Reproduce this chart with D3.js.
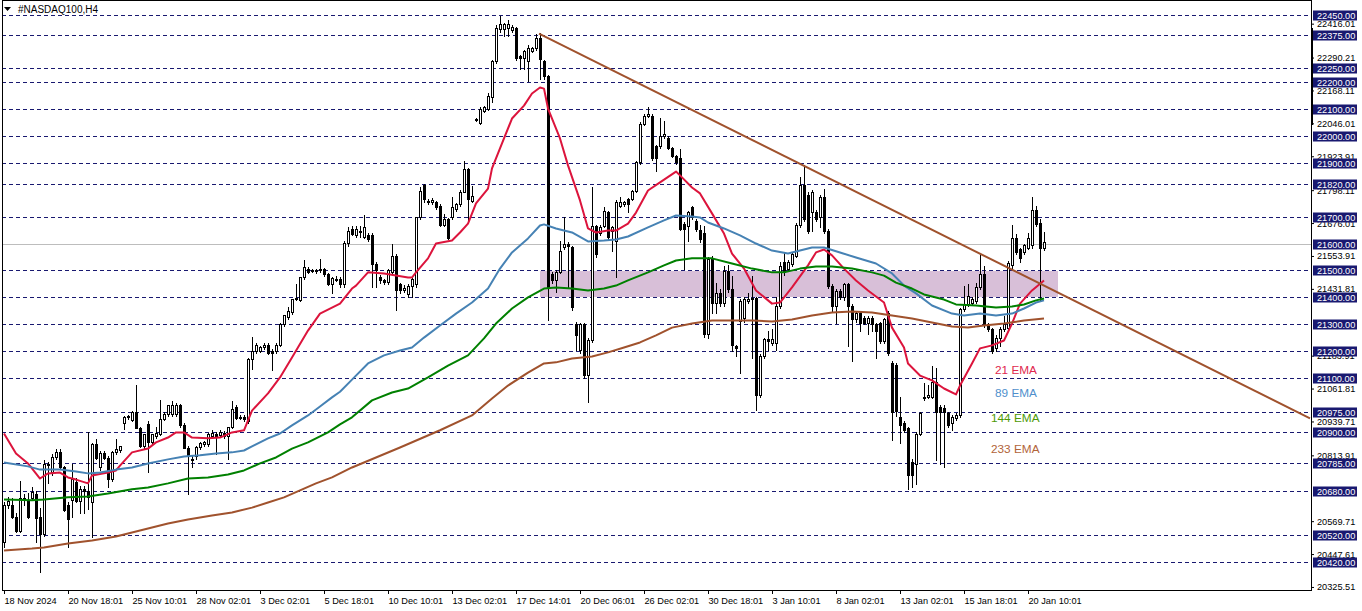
<!DOCTYPE html>
<html><head><meta charset="utf-8">
<script src="https://cdn.jsdelivr.net/npm/d3@7"></script>
<style>
html,body{margin:0;padding:0;background:#fff;}
svg{display:block;}
text{font-family:"Liberation Sans",Arial,sans-serif;}
</style></head><body>
<svg id="chart" width="1362" height="611"></svg>
<script>
// ---------------- DATA ----------------
const open = [20492,20630,20630,20585,20535,20655,20650,20655,20670,20585,20523,20782,20752,20808,20826,20770,20630,20650,20715,20646,
20690,20680,20640,20855,20770,20822,20803,20727,20826,20833,20933,20958,20945,20975,20915,20847,20930,20863,20885,20894,
20950,20968,20968,20968,21000,20928,20842,20800,20813,20844,20857,20857,20885,20894,20890,20898,20885,20919,20995,20956,
20955,20943,21172,21203,21203,21215,21225,21203,21203,21225,21302,21327,21345,21395,21392,21475,21505,21500,21500,21500,
21506,21487,21448,21470,21469,21448,21601,21654,21630,21648,21623,21630,21630,21525,21475,21466,21457,21494,21552,21450,
21428,21413,21444,21450,21697,21818,21759,21753,21753,21740,21670,21691,21697,21728,21747,21793,21876,21759,22061,22049,
22092,22098,22144,22277,22395,22395,22401,22391,22401,22296,22290,22277,22314,22327,22364,22277,22222,21487,21463,21494,
21586,21599,21586,21302,21204,21302,21111,21241,21666,21640,21666,21716,21648,21611,21740,21747,21765,21765,21796,21901,
22043,22074,22074,21963,21963,21999,21993,21956,21926,21919,21673,21666,21734,21685,21650,21640,21263,21543,21381,21418,
21381,21499,21431,21219,21312,21325,21387,21393,21397,21038,21182,21244,21231,21231,21368,21530,21505,21524,21555,21667,
21817,21780,21717,21717,21698,21773,21648,21443,21368,21424,21400,21449,21368,21319,21343,21325,21306,21325,21300,21306,
21238,21343,21157,21150,20957,20933,20914,20790,20783,20895,21026,21032,21032,21088,20995,20989,20970,20933,20951,20964,
21356,21374,21381,21387,21437,21487,21300,21281,21214,21250,21281,21288,21520,21622,21580,21567,21585,21593,21723,21678,21582];
const high = [20640,20660,20655,20600,20720,20670,20675,20696,20680,20620,20795,20790,20820,20838,20838,20775,20640,20782,20730,20700,
20700,20900,20860,20875,20830,20830,20810,20830,20875,20850,20960,20965,20977,21076,20920,20895,20940,20894,20919,21020,
20975,21000,21015,21010,21005,20935,20850,20813,20850,20865,20866,20898,20907,20900,20907,20905,20920,21017,21000,20962,
20962,21175,21253,21230,21220,21230,21230,21210,21230,21305,21335,21364,21395,21450,21475,21540,21512,21505,21505,21544,
21510,21490,21475,21480,21475,21610,21663,21665,21665,21666,21706,21640,21640,21530,21485,21470,21505,21599,21560,21455,
21445,21450,21475,21700,21808,21821,21765,21770,21758,21745,21710,21695,21771,21752,21800,21907,21880,21814,22065,22105,
22110,22160,22280,22410,22444,22420,22431,22410,22405,22300,22320,22335,22330,22376,22380,22280,22225,21495,21500,21611,
21697,21605,21590,21310,21305,21305,21250,21808,21670,21670,21737,21720,21665,21760,21774,21758,21770,21800,21907,22050,
22080,22105,22080,21965,22067,22055,22000,21960,21930,21950,21680,21722,21740,21690,21667,21665,21550,21555,21455,21431,
21518,21520,21480,21225,21395,21400,21418,21480,21400,21190,21250,21275,21281,21400,21530,21568,21540,21570,21675,21848,
21891,21790,21800,21725,21780,21804,21655,21450,21430,21430,21455,21455,21375,21350,21350,21330,21330,21330,21305,21310,
21325,21350,21165,21157,21032,20940,20920,20800,20900,20975,21082,21076,21144,21138,21000,21000,20975,20965,20970,21362,
21443,21448,21400,21455,21561,21518,21305,21285,21260,21290,21331,21535,21667,21637,21585,21600,21640,21771,21741,21690,21641];
const low = [20473,20620,20580,20530,20530,20630,20580,20650,20492,20380,20515,20710,20740,20800,20765,20609,20473,20585,20640,20600,
20600,20615,20510,20800,20760,20800,20696,20720,20820,20828,20910,20950,20940,20915,20844,20840,20752,20855,20880,20890,
20945,20960,20960,20960,20920,20840,20671,20770,20800,20838,20850,20850,20880,20820,20885,20878,20801,20915,20950,20948,
20940,20935,21135,21195,21198,21210,21190,21129,21195,21220,21295,21320,21340,21390,21385,21470,21490,21495,21490,21495,
21480,21445,21416,21460,21440,21440,21590,21630,21625,21623,21620,21610,21438,21438,21455,21450,21450,21490,21354,21415,
21420,21401,21401,21440,21690,21755,21745,21745,21728,21665,21665,21615,21690,21722,21740,21790,21680,21755,22055,22043,
22088,22095,22127,22270,22385,22370,22370,22385,22280,22246,22246,22203,22310,22320,22210,22210,21315,21455,21420,21490,
21580,21438,21355,21204,21195,21100,21012,21235,21549,21630,21660,21618,21574,21475,21735,21740,21716,21760,21790,21895,
22040,22070,21910,21870,21955,21990,21950,21920,21895,21650,21506,21611,21690,21648,21605,21255,21250,21343,21343,21368,
21368,21420,21200,21182,21119,21310,21380,21175,20982,21030,21175,21206,21225,21206,21360,21485,21500,21518,21550,21660,
21685,21640,21648,21685,21661,21640,21435,21350,21306,21395,21390,21219,21163,21310,21275,21300,21263,21275,21175,21230,
21232,21188,20870,20960,20858,20900,20690,20696,20709,20890,21020,21025,21025,20796,20783,20771,20920,20908,20945,20957,
21350,21370,21375,21380,21430,21290,21275,21194,21200,21219,21275,21280,21510,21560,21530,21560,21580,21585,21665,21390,21575];
const close = [20630,20645,20585,20535,20655,20650,20585,20677,20580,20523,20782,20778,20808,20826,20770,20612,20578,20727,20646,20690,
20680,20658,20855,20805,20822,20803,20727,20826,20838,20850,20958,20960,20975,20915,20847,20894,20863,20894,20897,20950,
20968,20999,21001,21001,20925,20842,20813,20795,20844,20860,20863,20894,20897,20884,20902,20885,20919,20987,20953,20955,
20950,21172,21200,21225,21215,21222,21193,21193,21225,21302,21333,21349,21395,21398,21475,21512,21495,21501,21497,21506,
21487,21448,21473,21469,21448,21601,21648,21636,21654,21646,21660,21617,21525,21500,21465,21459,21500,21552,21426,21426,
21436,21444,21469,21697,21796,21765,21753,21760,21734,21670,21691,21620,21734,21747,21793,21876,21765,21777,22059,22098,
22105,22148,22277,22401,22413,22413,22413,22403,22287,22287,22314,22327,22327,22364,22283,22222,21438,21463,21494,21574,
21599,21590,21364,21259,21302,21111,21241,21666,21562,21660,21722,21623,21660,21753,21753,21753,21747,21796,21901,22043,
22074,22080,21919,21919,22000,22006,21956,21926,21901,21654,21654,21716,21697,21654,21615,21263,21543,21381,21418,21381,
21499,21431,21225,21213,21387,21393,21393,21397,21038,21182,21244,21240,21244,21368,21518,21493,21530,21561,21667,21817,
21692,21648,21792,21692,21773,21648,21443,21368,21424,21400,21449,21368,21319,21343,21306,21306,21325,21300,21275,21238,
21319,21194,20976,20980,20926,20908,20740,20740,20895,20970,21032,21038,21088,20976,20976,20976,20926,20957,20964,21356,
21374,21406,21393,21437,21487,21300,21281,21200,21251,21281,21300,21526,21622,21567,21548,21593,21619,21723,21674,21582,21604];

// indicator lines: [bar index, price]
const ema21 = [[0,20895],[3,20821],[6,20784],[9,20728],[11,20747],[14,20750],[16,20732],[18,20724],[21,20710],[22,20739],[26,20750],[28,20758],[29,20776],[32,20825],[36,20839],[38,20862],[41,20880],[43,20899],[45,20899],[47,20880],[51,20877],[54,20880],[57,20899],[60,20907],[62,20980],[66,21044],[69,21103],[72,21177],[76,21277],[79,21340],[84,21377],[87,21433],[88,21444],[91,21493],[95,21489],[101,21474],[102,21474],[103,21493],[106,21545],[108,21600],[112,21611],[114,21641],[116,21674],[118,21749],[121,21804],[122,21879],[125,21990],[127,22064],[130,22112],[132,22157],[134,22179],[135,22175],[136,22101],[139,21990],[141,21890],[144,21760],[146,21656],[148,21641],[151,21648],[153,21648],[156,21674],[158,21715],[161,21797],[164,21827],[168,21867],[169,21853],[172,21808],[174,21786],[177,21712],[180,21637],[182,21563],[185,21507],[188,21426],[192,21377],[194,21381],[197,21437],[201,21519],[203,21567],[205,21578],[207,21556],[210,21507],[213,21463],[216,21426],[220,21381],[222,21288],[225,21214],[226,21155],[229,21110],[232,21092],[235,21062],[238,21040],[239,21073],[242,21155],[244,21211],[247,21222],[250,21240],[252,21303],[254,21377],[257,21426],[260,21463]];
const ema89 = [[0,20787],[6,20773],[9,20761],[14,20761],[18,20754],[21,20747],[24,20750],[28,20761],[32,20769],[36,20784],[41,20799],[45,20810],[49,20814],[53,20821],[57,20825],[60,20832],[62,20847],[66,20877],[69,20895],[72,20925],[76,20962],[79,20995],[82,21029],[84,21050],[87,21095],[91,21155],[95,21185],[99,21203],[102,21214],[105,21251],[109,21296],[113,21340],[117,21381],[121,21433],[124,21507],[127,21567],[131,21619],[134,21667],[135,21671],[138,21656],[142,21641],[146,21608],[150,21611],[153,21615],[156,21626],[161,21660],[165,21686],[168,21704],[172,21700],[174,21697],[176,21678],[180,21656],[184,21630],[188,21600],[192,21574],[196,21563],[199,21574],[202,21585],[205,21585],[209,21567],[213,21548],[218,21526],[222,21489],[225,21444],[228,21415],[232,21370],[237,21340],[240,21333],[244,21340],[248,21333],[252,21340],[255,21359],[258,21381],[260,21389]];
const ema144 = [[0,20650],[7,20647],[10,20650],[16,20658],[21,20661],[26,20672],[32,20688],[36,20695],[41,20710],[46,20728],[51,20732],[56,20743],[60,20758],[64,20784],[68,20806],[72,20839],[76,20862],[81,20899],[84,20929],[87,20955],[92,21018],[97,21047],[101,21062],[106,21103],[111,21147],[116,21185],[120,21248],[123,21303],[127,21359],[131,21400],[135,21433],[138,21437],[142,21433],[146,21426],[150,21433],[153,21444],[156,21463],[161,21493],[165,21519],[168,21537],[172,21545],[177,21545],[182,21526],[187,21507],[192,21493],[195,21493],[199,21507],[203,21515],[207,21515],[212,21507],[217,21493],[220,21481],[223,21455],[227,21433],[230,21411],[235,21392],[238,21374],[243,21370],[248,21363],[252,21366],[255,21374],[258,21389],[260,21396]];
const ema233 = [[0,20461],[7,20468],[10,20472],[16,20487],[22,20498],[28,20513],[34,20535],[41,20561],[46,20576],[52,20591],[57,20602],[62,20620],[66,20639],[70,20658],[74,20684],[78,20710],[82,20732],[87,20769],[99,20843],[109,20907],[117,20962],[122,21025],[126,21073],[131,21121],[135,21155],[138,21159],[142,21173],[147,21181],[151,21196],[155,21214],[159,21233],[163,21259],[167,21288],[172,21303],[177,21314],[182,21314],[187,21314],[192,21311],[197,21318],[202,21333],[207,21344],[212,21348],[217,21344],[222,21333],[227,21322],[232,21307],[237,21292],[241,21288],[245,21296],[250,21303],[255,21314],[260,21322]];

const trendLine = [[133.75,22379],[326.5,20951]];
const zoneBars = [134,263.5];
const zonePrices = [21400,21500];
const bidPrice = 21600;

const levelPrices = [22450,22375,22250,22200,22100,22000,21900,21820,21700,21600,21500,21400,21300,21200,21100,20975,20900,20785,20680,20520,20420];
// scale values that show (fully or partly) beside the level boxes
const scalePrices = [22416.01,22290.21,22168.11,22046.01,21923.91,21798.11,21676.01,21553.91,21431.81,21183.91,21061.81,20939.71,20813.91,20569.71,20447.61,20325.51];
const timeBars = [0,16,32,48,64,80,96,112,128,144,160,176,192,208,224,240,256];
const timeLabels = ["18 Nov 2024","20 Nov 18:01","25 Nov 10:01","28 Nov 02:01","3 Dec 02:01","5 Dec 18:01","10 Dec 10:01","13 Dec 02:01","17 Dec 14:01","20 Dec 06:01","26 Dec 02:01","30 Dec 18:01","3 Jan 10:01","8 Jan 02:01","13 Jan 02:01","15 Jan 18:01","20 Jan 10:01"];
const emaNames = ["21 EMA","89 EMA","144 EMA","233 EMA"];
const title = "#NASDAQ100,H4";

// ---------------- LAYOUT ----------------
const plotL = 2, plotR = 1311, plotT = 0, plotB = 590;
const x = d3.scaleLinear().domain([0, 326.5]).range([4, 1310]);
const y = d3.scaleLinear().domain([20420, 22450]).range([561.5, 14.5]);
const svg = d3.select("#chart");
const navy = "#191970";
const emaColors = ["#DC143C","#4682B4","#008000","#A0522D"];
const labelColors = ["#E0284E","#4F8FCC","#4E9A06","#B2643A"];
const bars = d3.range(open.length);

svg.append("rect").attr("width",1362).attr("height",611).attr("fill","#fff");

// grid levels (dashed)
svg.append("g").selectAll("line").data(levelPrices).join("line")
  .attr("x1", plotL).attr("x2", plotR)
  .attr("y1", d => Math.round(y(d)) + 0.5).attr("y2", d => Math.round(y(d)) + 0.5)
  .attr("stroke", navy).attr("stroke-width", 1).attr("stroke-dasharray", "4,3")
  .attr("shape-rendering","crispEdges");

// zone rectangle
svg.append("rect")
  .attr("x", x(zoneBars[0])).attr("width", x(zoneBars[1]) - x(zoneBars[0]))
  .attr("y", Math.round(y(zonePrices[1]))+1).attr("height", Math.round(y(zonePrices[0])) - Math.round(y(zonePrices[1])) - 1)
  .attr("fill", "#D8BFD8");

// bid line
svg.append("line").attr("x1", plotL).attr("x2", plotR)
  .attr("y1", Math.round(y(bidPrice))+0.5).attr("y2", Math.round(y(bidPrice))+0.5)
  .attr("stroke", "#BDBDBD").attr("stroke-width", 1).attr("shape-rendering","crispEdges");

// candles
const cg = svg.append("g").attr("shape-rendering","crispEdges");
cg.selectAll("line").data(bars).join("line")
  .attr("x1", i => Math.round(x(i)) + 0.5).attr("x2", i => Math.round(x(i)) + 0.5)
  .attr("y1", i => Math.round(y(high[i]))).attr("y2", i => Math.round(y(low[i])) + 1)
  .attr("stroke", "#000").attr("stroke-width", 1);
cg.selectAll("rect").data(bars).join("rect")
  .attr("x", i => Math.round(x(i)) - 0.5).attr("width", 2)
  .attr("y", i => Math.round(y(Math.max(open[i], close[i]))) + 0.5)
  .attr("height", i => Math.max(1, Math.round(y(Math.min(open[i], close[i]))) - Math.round(y(Math.max(open[i], close[i])))))
  .attr("fill", i => close[i] >= open[i] ? "#fff" : "#000")
  .attr("stroke", "#000").attr("stroke-width", 1);

// EMA lines
const line = d3.line().x(d => x(d[0])).y(d => y(d[1]));
[ema21, ema89, ema144, ema233].forEach((s, k) => {
  svg.append("path").attr("d", line(s)).attr("fill","none")
    .attr("stroke", emaColors[k]).attr("stroke-width", 2).attr("stroke-linejoin","round");
});

// trend line
svg.append("path").attr("d", line(trendLine)).attr("fill","none")
  .attr("stroke", "#A0522D").attr("stroke-width", 2);

// EMA labels
const labelPos = [[995,374],[995,397],[991,422],[991,453]];
emaNames.forEach((n,k) => {
  svg.append("text").attr("x", labelPos[k][0]).attr("y", labelPos[k][1])
    .attr("font-size", "11.8px").attr("fill", labelColors[k]).text(n);
});

// frame
svg.append("rect").attr("x", plotL + 0.5).attr("y", plotT + 0.5)
  .attr("width", plotR - plotL).attr("height", plotB - plotT)
  .attr("fill","none").attr("stroke","#000").attr("stroke-width",1).attr("shape-rendering","crispEdges");

// right price axis (scale labels)
const ay = svg.append("g").attr("transform", `translate(${plotR},0)`)
  .call(d3.axisRight(y).tickValues(scalePrices).tickFormat(d3.format(".2f")).tickSize(3).tickSizeOuter(0).tickPadding(3));
ay.select(".domain").remove();
ay.selectAll("text").attr("font-size","9.2px").attr("font-family","Liberation Sans, Arial, sans-serif").attr("fill","#000");
ay.selectAll("line").attr("stroke","#000");

// thick axis mark
svg.append("rect").attr("x", plotR).attr("y", 28).attr("width", 2).attr("height", 97).attr("fill","#000");

// level labels (navy boxes)
const lg = svg.append("g");
lg.selectAll("rect").data(levelPrices).join("rect")
  .attr("x", plotR + 2).attr("width", 44)
  .attr("y", d => Math.round(y(d)) - 4.5).attr("height", 10)
  .attr("fill", navy);
lg.selectAll("text").data(levelPrices).join("text")
  .attr("x", plotR + 6).attr("y", d => Math.round(y(d)) + 4)
  .attr("font-size","9.2px").attr("fill","#fff").text(d => d3.format(".2f")(d));

// bottom time axis
const ax = svg.append("g").attr("transform", `translate(0,${plotB})`)
  .call(d3.axisBottom(x).tickValues(timeBars).tickFormat((d,i) => timeLabels[i]).tickSize(4).tickSizeOuter(0).tickPadding(3));
ax.select(".domain").remove();
ax.selectAll("line").attr("stroke","#000");
ax.selectAll("text").attr("text-anchor","start").attr("x", 0).attr("dy","0.71em")
  .attr("font-size","9.2px").attr("font-family","Liberation Sans, Arial, sans-serif").attr("fill","#000");

// title
svg.append("path").attr("d","M4,7 L11,7 L7.5,11 Z").attr("fill","#000");
svg.append("text").attr("x", 18).attr("y", 13).attr("font-size","10px").attr("fill","#000").text(title);
</script>
</body></html>
